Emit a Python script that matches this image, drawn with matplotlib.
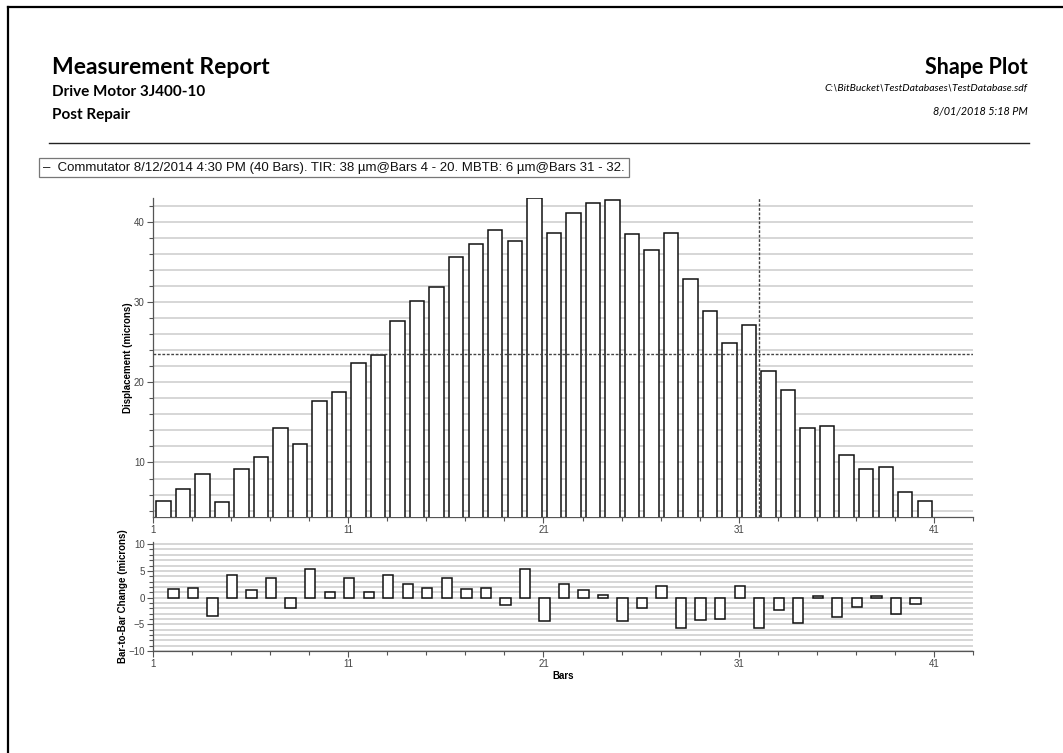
import numpy as np
import matplotlib
matplotlib.use("Agg")
import matplotlib.pyplot as plt
from matplotlib.lines import Line2D

# ---------------- data ----------------
bar_numbers = list(range(1, 41))
displacement = [5.15, 6.72, 8.55, 5.02, 9.25, 10.66, 14.27, 12.32, 17.68, 18.76,
                22.45, 23.44, 27.63, 30.17, 31.95, 35.64, 37.30, 38.96, 37.63, 42.99,
                38.63, 41.08, 42.37, 42.78, 38.51, 36.56, 38.67, 32.95, 28.84, 24.90,
                27.14, 21.45, 19.05, 14.27, 14.52, 10.95, 9.25, 9.46, 6.35, 5.15]
change_positions = list(range(2, 41))
bar_change = [1.6, 1.85, -3.45, 4.25, 1.42, 3.6, -1.92, 5.4, 1.1, 3.72,
              0.95, 4.3, 2.55, 1.85, 3.72, 1.68, 1.72, -1.3, 5.4, -4.32,
              2.48, 1.35, 0.45, -4.3, -1.92, 2.18, -5.78, -4.12, -3.92, 2.25,
              -5.75, -2.4, -4.85, 0.3, -3.56, -1.7, 0.22, -3.08, -1.2]
mean_level = 23.5
mbtb_boundary = 32.03
top_xticks = [1, 11, 21, 31, 41]
top_yticks = [10, 20, 30, 40]
bot_yticks = [-10, -5, 0, 5, 10]

legend_text = ("\u2013  Commutator 8/12/2014 4:30 PM (40 Bars). TIR: 38 \u00b5m@Bars 4 - 20. "
               "MBTB: 6 \u00b5m@Bars 31 - 32.")

# ---------------- figure ----------------
W, H = 1063, 753
fig = plt.figure(figsize=(W / 100, H / 100), dpi=100)
fig.patch.set_facecolor("white")

def fx(px):
    return px / W

def fy(py):
    return 1 - py / H

# page border (left + top)
fig.add_artist(Line2D([fx(8), fx(8)], [fy(7), 0], color="black", lw=1.6,
                      transform=fig.transFigure))
fig.add_artist(Line2D([fx(8), 1], [fy(7), fy(7)], color="black", lw=1.6,
                      transform=fig.transFigure))
# header separator
fig.add_artist(Line2D([fx(49), fx(1029)], [fy(143), fy(143)], color="#222222", lw=1.0,
                      transform=fig.transFigure))

hdr = "Lato"
fig.text(fx(52), fy(67), "Measurement Report", fontsize=16.5, fontweight="bold",
         family=hdr, va="center", ha="left")
fig.text(fx(52), fy(92), "Drive Motor 3J400-10", fontsize=11, fontweight="bold",
         family=hdr, va="center", ha="left")
fig.text(fx(52), fy(115), "Post Repair", fontsize=11, fontweight="bold",
         family=hdr, va="center", ha="left")
fig.text(fx(1028), fy(67), "Shape Plot", fontsize=15.5, fontweight="bold",
         family=hdr, va="center", ha="right")
fig.text(fx(1028), fy(89), "C:\\BitBucket\\TestDatabases\\TestDatabase.sdf", fontsize=7.5,
         style="italic", family=hdr, va="center", ha="right")
fig.text(fx(1028), fy(112), "8/01/2018 5:18 PM", fontsize=7.8,
         style="italic", family=hdr, va="center", ha="right")

# legend box
fig.text(fx(43), fy(167.5), legend_text, fontsize=9.5, family="Liberation Sans",
         color="#111111", va="center", ha="left",
         bbox=dict(boxstyle="square,pad=0.3", fc="white", ec="#777777", lw=0.9))

# ---------------- axes ----------------
x_left, x_right = 153, 973
ax1 = fig.add_axes([fx(x_left), fy(517), fx(x_right - x_left), (517 - 198) / H])
ax2 = fig.add_axes([fx(x_left), fy(651), fx(x_right - x_left), (651 - 542) / H])

grid_c = "#cbcbcb"
spine_c = "#555555"
tick_c = "#444444"

for ax in (ax1, ax2):
    ax.set_xlim(1, 43)
    ax.set_xticks(top_xticks)
    ax.set_xticks(np.arange(1, 44, 2), minor=True)
    for s in ("top", "right"):
        ax.spines[s].set_visible(False)
    for s in ("left", "bottom"):
        ax.spines[s].set_color(spine_c)
        ax.spines[s].set_linewidth(0.9)
    ax.tick_params(which="both", direction="out", color=spine_c, width=0.8,
                   labelsize=7, labelcolor=tick_c, pad=2)
    ax.tick_params(which="major", length=4)
    ax.tick_params(which="minor", length=3)
    ax.set_axisbelow(True)

# top chart
ax1.set_ylim(3.2, 43)
ax1.set_yticks(top_yticks)
ax1.set_yticks(np.arange(4, 43, 2), minor=True)
ax1.grid(axis="y", which="both", color=grid_c, lw=1.1)
pos_top = np.array(bar_numbers) + 0.53
ax1.bar(pos_top, displacement, width=0.74, color="white", edgecolor="#111111",
        linewidth=1.1, zorder=3)
ax1.axhline(mean_level, color="#444444", lw=1.0, ls=(0, (2, 1.2)), zorder=4)
ax1.axvline(mbtb_boundary, color="#444444", lw=1.0, ls=(0, (2, 1.2)), zorder=4)
ax1.set_ylabel("Displacement (microns)", fontsize=7, fontweight="bold",
               family="Liberation Sans", labelpad=1)

# bottom chart
ax2.set_ylim(-10, 10.4)
ax2.set_yticks(bot_yticks)
ax2.set_yticks(np.arange(-10, 11, 1), minor=True)
ax2.grid(axis="y", which="both", color=grid_c, lw=1.1)
pos_bot = np.array(change_positions) + 0.05
ax2.bar(pos_bot, bar_change, width=0.53, color="white", edgecolor="#111111",
        linewidth=1.1, zorder=3)
ax2.set_ylabel("Bar-to-Bar Change (microns)", fontsize=7, fontweight="bold",
               family="Liberation Sans", labelpad=0)
ax2.set_xlabel("Bars", fontsize=7, fontweight="bold", family="Liberation Sans",
               labelpad=1)

for lab in ax1.get_xticklabels() + ax1.get_yticklabels() + ax2.get_xticklabels() + ax2.get_yticklabels():
    lab.set_family("Liberation Sans")

fig.savefig("out.png", dpi=100, facecolor="white")
